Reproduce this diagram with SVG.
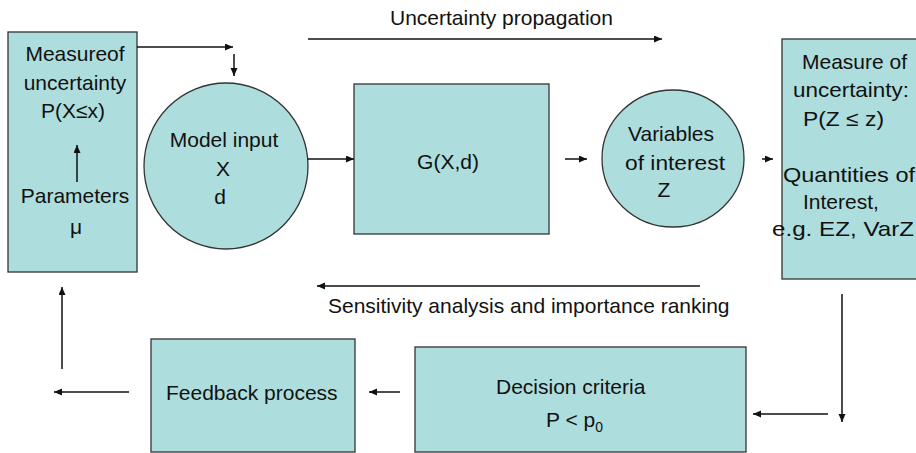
<svg xmlns="http://www.w3.org/2000/svg" width="916" height="453" viewBox="0 0 916 453">
<defs>
<style>
.box{fill:#ADDEDD;stroke:#333;stroke-width:1.3}
.t{font-family:"Liberation Sans",Arial,sans-serif;font-size:21px;fill:#111}
.c{text-anchor:middle}
.ln{stroke:#111;stroke-width:1.5;fill:none;marker-end:url(#ah)}
</style>
<marker id="ah" markerUnits="userSpaceOnUse" markerWidth="10" markerHeight="8" refX="8" refY="3.5" orient="auto">
<path d="M0,0 L8,3.5 L0,7 z" fill="#111"/>
</marker>
</defs>
<rect width="916" height="453" fill="#fff"/>

<g id="measure-x">
<rect class="box" x="8" y="32" width="129" height="240"/>
<text class="t c" x="75" y="61">Measureof</text>
<text class="t c" x="75" y="90">uncertainty</text>
<text class="t c" x="73" y="118">P(X≤x)</text>
<text class="t c" x="75" y="203">Parameters</text>
<text class="t c" x="76" y="234">μ</text>
</g>

<g id="model-input">
<ellipse class="box" cx="226" cy="166" rx="82" ry="83"/>
<text class="t c" x="224" y="147">Model input</text>
<text class="t c" x="223" y="176">X</text>
<text class="t c" x="220" y="204">d</text>
</g>

<g id="g-func">
<rect class="box" x="354" y="84" width="195" height="150"/>
<text class="t c" x="448" y="169">G(X,d)</text>
</g>

<g id="variables">
<ellipse class="box" cx="673" cy="158.5" rx="71" ry="68.5"/>
<text class="t c" x="671" y="141">Variables</text>
<text class="t c" x="675" y="170" textLength="100" lengthAdjust="spacingAndGlyphs">of interest</text>
<text class="t c" x="664" y="197">Z</text>
</g>

<g id="measure-z">
<rect class="box" x="782" y="39" width="140" height="240"/>
<text class="t" x="802" y="69">Measure of</text>
<text class="t" x="793" y="97" textLength="116" lengthAdjust="spacingAndGlyphs">uncertainty:</text>
<text class="t" x="803" y="126" textLength="81" lengthAdjust="spacingAndGlyphs">P(Z ≤ z)</text>
<text class="t" x="783" y="182" textLength="132" lengthAdjust="spacingAndGlyphs">Quantities of</text>
<text class="t" x="803" y="209">Interest,</text>
<text class="t" x="772" y="236" textLength="142" lengthAdjust="spacingAndGlyphs">e.g. EZ, VarZ</text>
</g>

<g id="feedback">
<rect class="box" x="151" y="339" width="204" height="113"/>
<text class="t" x="166" y="400">Feedback process</text>
</g>

<g id="decision">
<rect class="box" x="415" y="347" width="331" height="105"/>
<text class="t" x="496" y="394">Decision criteria</text>
<text class="t" x="546" y="427">P &lt; p<tspan font-size="14" dy="5">0</tspan></text>
</g>

<g id="labels">
<text class="t" x="390" y="25">Uncertainty propagation</text>
<text class="t" x="328" y="313">Sensitivity analysis and importance ranking</text>
</g>

<g id="connectors">
<line class="ln" x1="137" y1="47" x2="233" y2="47"/>
<line class="ln" x1="234" y1="54" x2="234" y2="76"/>
<line class="ln" x1="77" y1="182" x2="77" y2="145"/>
<line class="ln" x1="308" y1="159" x2="354" y2="159"/>
<line class="ln" x1="565" y1="159" x2="587" y2="159"/>
<line class="ln" x1="762" y1="159" x2="773" y2="159"/>
<line class="ln" x1="308" y1="39" x2="662" y2="39"/>
<line class="ln" x1="700" y1="286" x2="317" y2="286"/>
<line class="ln" x1="842" y1="294" x2="842" y2="422"/>
<line class="ln" x1="828" y1="414" x2="753" y2="414"/>
<line class="ln" x1="400" y1="392" x2="369" y2="392"/>
<line class="ln" x1="129" y1="392" x2="54" y2="392"/>
<line class="ln" x1="62" y1="369" x2="62" y2="287"/>
</g>
</svg>
